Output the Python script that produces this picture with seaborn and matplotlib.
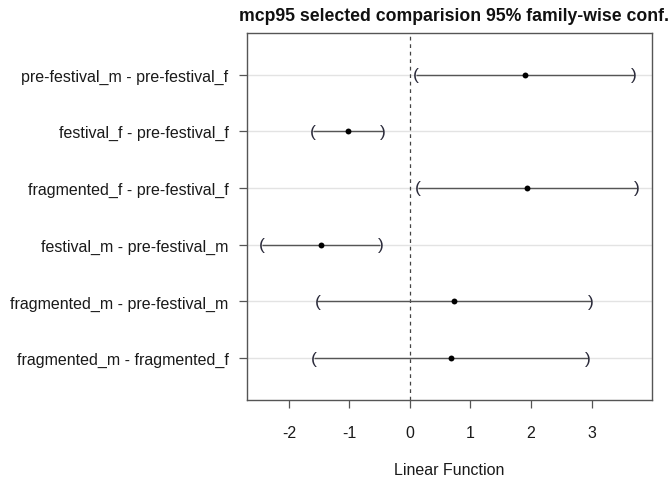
import matplotlib
matplotlib.use("Agg")
import matplotlib.pyplot as plt
import seaborn as sns
import pandas as pd

comparisons = [
    "pre-festival_m - pre-festival_f",
    "festival_f - pre-festival_f",
    "fragmented_f - pre-festival_f",
    "festival_m - pre-festival_m",
    "fragmented_m - pre-festival_m",
    "fragmented_m - fragmented_f",
]
estimate = [1.90, -1.03, 1.94, -1.47, 0.73, 0.68]
lower = [0.10, -1.61, 0.13, -2.45, -1.53, -1.59]
upper = [3.70, -0.45, 3.75, -0.49, 2.99, 2.94]
x_ticks = [-2, -1, 0, 1, 2, 3]

df = pd.DataFrame({"comparison": comparisons, "estimate": estimate,
                   "lower": lower, "upper": upper})

sns.set_style("white")
plt.rcParams["font.family"] = ["Liberation Sans", "DejaVu Sans"]

fig = plt.figure(figsize=(6.72, 4.81), dpi=100)
ax = fig.add_axes([0.367, 0.1663, 0.6037, 0.7637])

# horizontal guide lines at each comparison
for c in df["comparison"]:
    ax.axhline(c, color="#e3e3e3", lw=1.0, zorder=0)

# reference line at zero
ax.axvline(0, color="#444444", lw=0.9, ls=(0, (3, 3)), zorder=1)

# confidence intervals with bracket end caps
ax.hlines(df["comparison"], df["lower"], df["upper"], color="#555555", lw=1.0, zorder=2)
for yi, (lo, hi) in enumerate(zip(df["lower"], df["upper"])):
    ax.text(lo, yi, "(", ha="center", va="center", fontsize=12.5,
            color="#2a2a3a", zorder=3)
    ax.text(hi, yi, ")", ha="center", va="center", fontsize=12.5,
            color="#2a2a3a", zorder=3)

sns.scatterplot(data=df, x="estimate", y="comparison", ax=ax, color="black",
                s=18, edgecolor="black", linewidth=0, zorder=4)

ax.set_xlim(-2.70, 4.005)
ax.set_ylim(5.74, -0.74)
ax.set_xticks(x_ticks)
ax.set_xticklabels([str(t) for t in x_ticks])

for s in ax.spines.values():
    s.set_color("#555555")
    s.set_linewidth(1.0)

ax.tick_params(axis="both", which="both", direction="out", length=6,
               width=0.9, color="#555555", labelsize=11.5, labelcolor="#1a1a1a",
               bottom=True, left=True)
ax.tick_params(axis="y", pad=7)
ax.tick_params(axis="x", pad=12)

ax.set_xlabel("Linear Function", fontsize=11.5, color="#1a1a1a", labelpad=16)
ax.set_ylabel("")
ax.set_title("mcp95 selected comparision 95% family-wise conf.",
             fontsize=12.7, fontweight="bold", pad=9, color="#111111", x=0.51)

fig.savefig("out.png", dpi=100)
